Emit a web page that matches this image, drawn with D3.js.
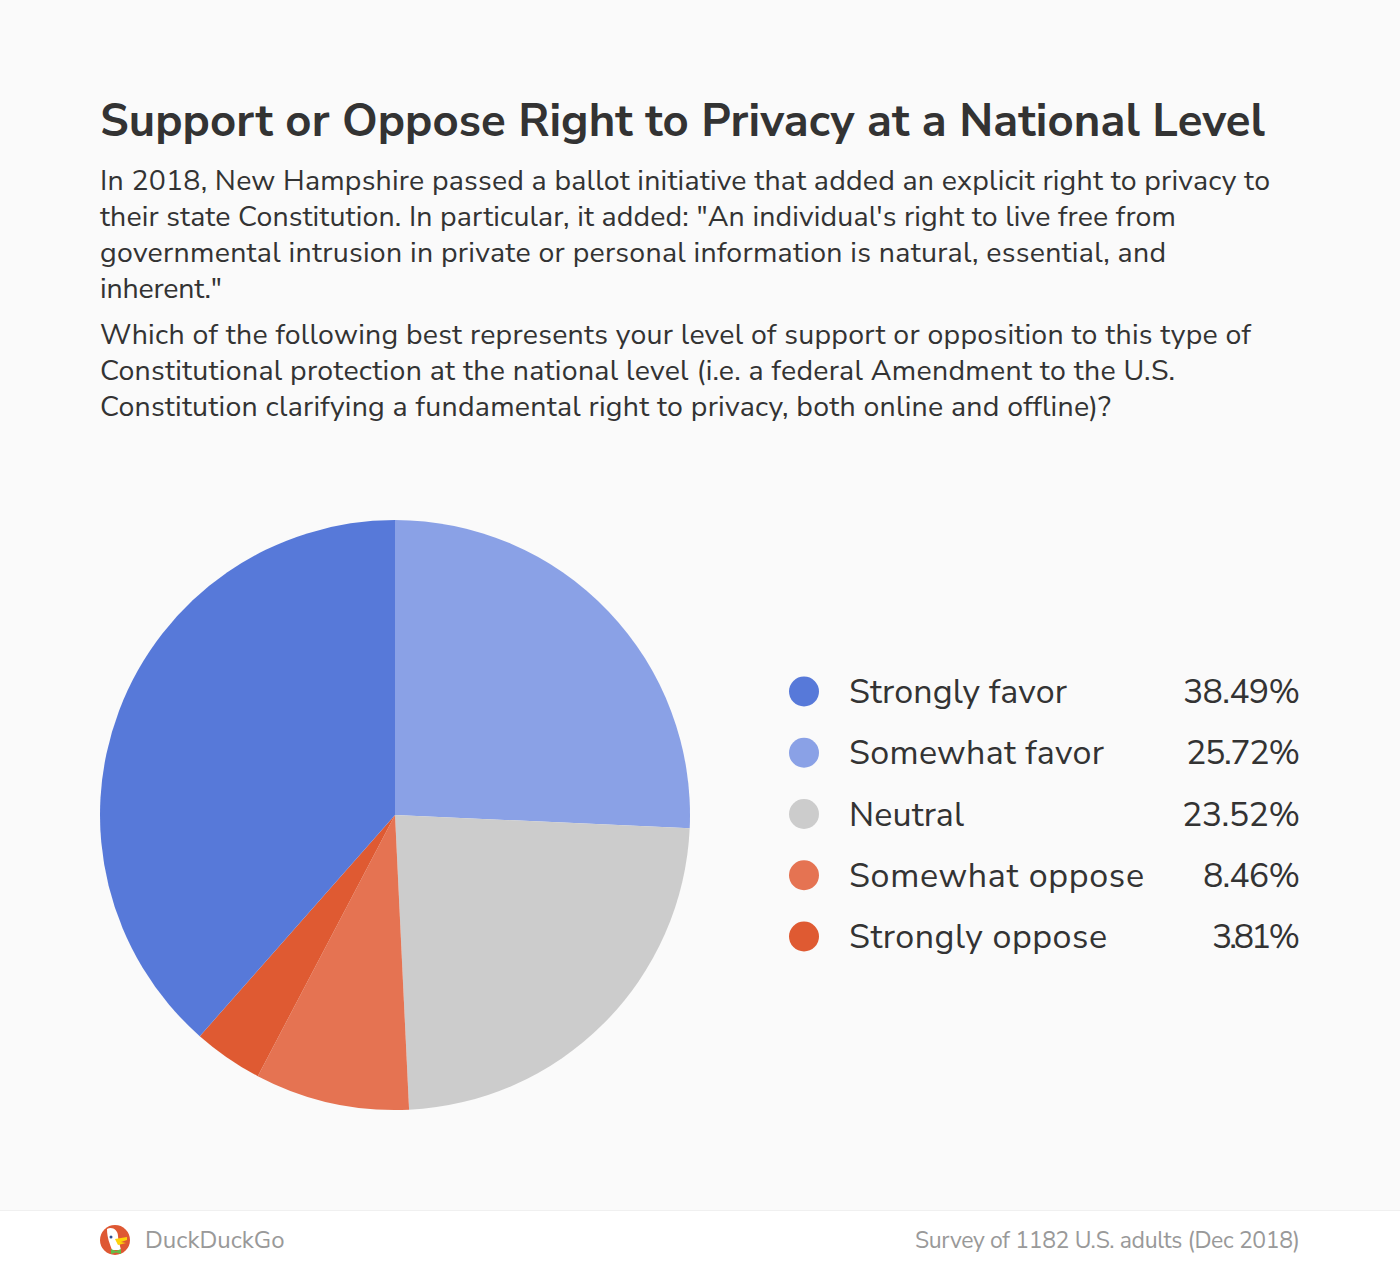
<!DOCTYPE html>
<html><head><meta charset="utf-8">
<script src="https://cdn.jsdelivr.net/npm/d3@7"></script>
<style>
html,body{margin:0;padding:0;background:#fafafa;}
svg{display:block;}
text{font-family:"Nunito Sans","Lato","Open Sans",sans-serif;fill:#333;}
</style></head><body>
<svg id="c" width="1400" height="1270"></svg>
<script>
const categories=["Strongly favor","Somewhat favor","Neutral","Somewhat oppose","Strongly oppose"];
const values=[38.49,25.72,23.52,8.46,3.81];
const colors=["#5779d9","#8aa1e6","#cccccc","#e57352","#df5a32"];
const sliceOrder=[1,2,3,4,0];
const titleText="Support or Oppose Right to Privacy at a National Level";
const para=[
 "In 2018, New Hampshire passed a ballot initiative that added an explicit right to privacy to",
 "their state Constitution. In particular, it added: \"An individual's right to live free from",
 "governmental intrusion in private or personal information is natural, essential, and",
 "inherent.\""];
const para2=[
 "Which of the following best represents your level of support or opposition to this type of",
 "Constitutional protection at the national level (i.e. a federal Amendment to the U.S.",
 "Constitution clarifying a fundamental right to privacy, both online and offline)?"];
const brand="DuckDuckGo";
const source="Survey of 1182 U.S. adults (Dec 2018)";

// measured text run widths, used only to fit the substitute font to the original line lengths
const paraWidths=[1170,1076,1066,122];
const para2Widths=[1151,1075,1011];
const labelWidths=[218,255,115,295,258];
const pctWidths=[117,114,118,97,88];
const fit=(sel,w)=>sel.attr("textLength",w).attr("lengthAdjust","spacing");

const svg=d3.select("#c");
svg.append("rect").attr("width",1400).attr("height",1270).attr("fill","#fafafa");
fit(svg.append("text").attr("x",100).attr("y",136).attr("font-size",45.5).attr("font-weight",700).text(titleText),1165);
para.forEach((t,i)=>fit(svg.append("text").attr("x",100).attr("y",190+36*i).attr("font-size",28.5).text(t),paraWidths[i]));
para2.forEach((t,i)=>fit(svg.append("text").attr("x",100).attr("y",344+36*i).attr("font-size",28.5).text(t),para2Widths[i]));

const pie=d3.pie().sort(null).value(i=>values[i]);
const arc=d3.arc().innerRadius(0).outerRadius(295);
const g=svg.append("g").attr("transform","translate(395,815)");
g.selectAll("path").data(pie(sliceOrder)).join("path").attr("d",arc).attr("fill",d=>colors[d.data]);

const y=d3.scalePoint().domain(categories).range([691.5,936.5]);
const leg=svg.append("g").selectAll("g").data(categories).join("g").attr("transform",d=>`translate(0,${y(d)})`);
leg.append("circle").attr("cx",804).attr("r",15).attr("fill",(d,i)=>colors[i]);
leg.append("text").attr("x",849).attr("y",11.5).attr("font-size",34).attr("textLength",(d,i)=>labelWidths[i]).attr("lengthAdjust","spacing").text(d=>d);
leg.append("text").attr("x",1300).attr("y",11.5).attr("font-size",34).attr("text-anchor","end").attr("textLength",(d,i)=>pctWidths[i]).attr("lengthAdjust","spacing").text((d,i)=>values[i].toFixed(2)+"%");

svg.append("rect").attr("x",0).attr("y",1210).attr("width",1400).attr("height",60).attr("fill","#ffffff");
svg.append("line").attr("x1",0).attr("x2",1400).attr("y1",1210.5).attr("y2",1210.5).attr("stroke","#f0f0f0");
const logo=svg.append("g").attr("transform","translate(115,1240)");
logo.append("circle").attr("r",15).attr("fill","#de5833");
logo.append("path").attr("d","M-8,-11 C-3,-14 3,-10 3,-4 C3,1 5,5 6,10 L-3,10 C-5,4 -8,-2 -8,-11Z").attr("fill","#fff");
logo.append("circle").attr("cx",-4).attr("cy",-3).attr("r",1.5).attr("fill","#2d4f8e");
logo.append("path").attr("d","M0,-1 L12,-3 L12,0 L6,2 L11,3 L3,5Z").attr("fill","#fdd20a");
logo.append("path").attr("d","M-4,9 L1,11 L6,9 L6,14 L1,12.5 L-4,14Z").attr("fill","#65bc46");
svg.append("text").attr("x",145).attr("y",1247.5).attr("font-size",24).style("fill","#999").text(brand);
svg.append("text").attr("x",1300).attr("y",1247.5).attr("font-size",23).attr("text-anchor","end").attr("textLength",385).attr("lengthAdjust","spacing").style("fill","#999").text(source);
</script></body></html>
